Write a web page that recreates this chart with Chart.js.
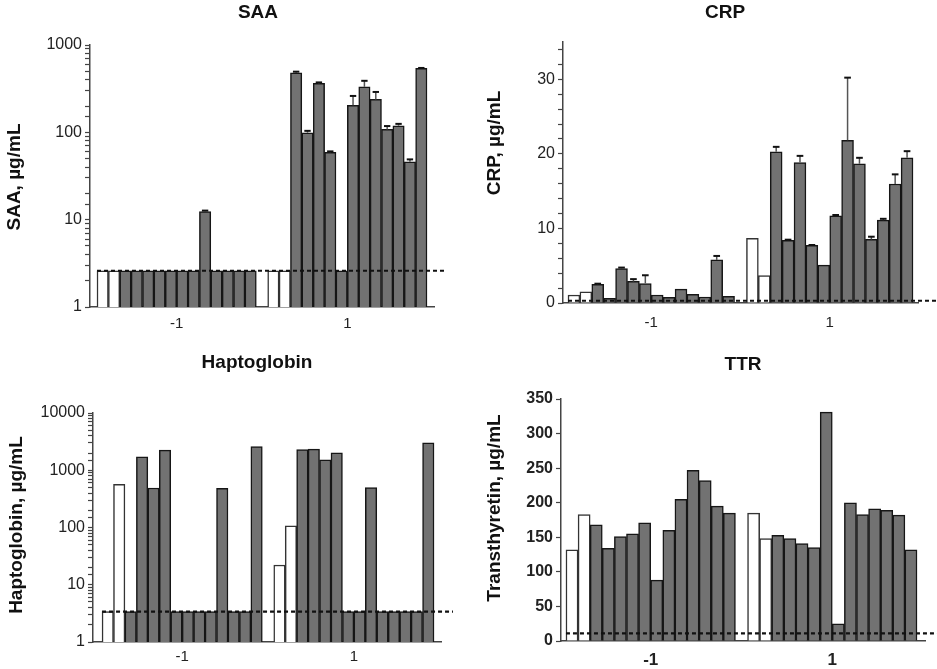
<!DOCTYPE html>
<html>
<head>
<meta charset="utf-8">
<script src="https://cdn.jsdelivr.net/npm/chart.js@4.4.1/dist/chart.umd.min.js"></script>
<style>
  body { margin: 0; background: #fff; }
  #wrap { position: relative; width: 937px; height: 669px; }
  canvas { position: absolute; }
</style>
</head>
<body>
<div id="wrap">
  <canvas id="saaChart" width="468" height="335" style="left:0;top:0"></canvas>
  <canvas id="crpChart" width="469" height="335" style="left:468px;top:0"></canvas>
  <canvas id="hpChart" width="468" height="334" style="left:0;top:335px"></canvas>
  <canvas id="ttrChart" width="469" height="334" style="left:468px;top:335px"></canvas>
</div>
<script>
// groups on the x axis; in each group the first two bars are controls (white)
const groupLabels = ['-1', '1'];

// SAA, µg/mL (log axis)
const saaMinus = [2.6, 2.6, 2.6, 2.6, 2.6, 2.6, 2.6, 2.6, 2.6, 12.4, 2.6, 2.6, 2.6, 2.6];
const saaPlus = [2.6, 2.6, 480, 99, 363, 59, 2.6, 204, 332, 238, 108, 119, 46, 540];
const saaErrMinus = [0, 0, 0, 0, 0, 0, 0, 0, 0, 0.3, 0, 0, 0, 0];
const saaErrPlus = [0, 0, 15, 5, 10, 1.5, 0, 57, 57, 52, 10, 6, 3, 6];
const saaTicks = [1, 10, 100, 1000];
const saaLod = 2.6;

// CRP, µg/mL
const crpMinus = [1.07, 1.51, 2.49, 0.62, 4.62, 2.89, 2.62, 1.07, 0.76, 1.87, 1.16, 0.8, 5.78, 0.89];
const crpPlus = [8.67, 3.69, 20.27, 8.4, 18.84, 7.73, 5.07, 11.7, 21.82, 18.67, 8.53, 11.11, 15.96, 19.47];
const crpErrMinus = [0, 0, 0.1, 0, 0.13, 0.31, 1.1, 0, 0, 0, 0, 0, 0.53, 0];
const crpErrPlus = [0, 0, 0.67, 0.09, 0.89, 0.05, 0, 0.1, 8.4, 0.8, 0.36, 0.18, 1.29, 0.89];
const crpTicks = [0, 10, 20, 30];
const crpLod = 0.3;

// Haptoglobin, µg/mL (log axis)
const hpMinus = [3.4, 568, 3.4, 1714, 490, 2244, 3.4, 3.4, 3.4, 3.4, 483, 3.4, 3.4, 2600];
const hpPlus = [22.1, 107, 2306, 2336, 1517, 2013, 3.4, 3.4, 497, 3.4, 3.4, 3.4, 3.4, 3017];
const hpTicks = [1, 10, 100, 1000, 10000];
const hpLod = 3.4;

// Transthyretin, µg/mL
const ttrMinus = [132, 183, 168, 134, 151, 155, 171, 88, 160, 205, 247, 232, 195, 185];
const ttrPlus = [185, 148, 153, 148, 141, 135, 331, 25, 200, 183, 191, 189, 182, 132];
const ttrTicks = [0, 50, 100, 150, 200, 250, 300, 350];
const ttrLod = 11;

const FONT = '"Liberation Sans", Arial, Helvetica, sans-serif';
Chart.defaults.font.family = FONT;

const panelText = {
  id: 'panelText',
  afterDraw(chart, args, opts) {
    const ctx = chart.ctx;
    ctx.save();
    ctx.fillStyle = '#111';
    ctx.textAlign = 'center';
    ctx.textBaseline = 'middle';
    ctx.font = 'bold 19px ' + FONT;
    ctx.fillText(opts.title, opts.titleX, opts.titleY);
    ctx.translate(opts.yTitleX, opts.yTitleY);
    ctx.rotate(-Math.PI / 2);
    ctx.font = 'bold 19px ' + FONT;
    ctx.fillText(opts.yTitle, 0, 0);
    ctx.restore();
  }
};

const errorBars = {
  id: 'errorBars',
  afterDatasetsDraw(chart, args, opts) {
    if (!opts.errors) return;
    const meta = chart.getDatasetMeta(0);
    const data = chart.data.datasets[0].data;
    const yScale = chart.scales.y;
    const ctx = chart.ctx;
    ctx.save();
    meta.data.forEach((bar, i) => {
      const err = opts.errors[i];
      if (!err) return;
      const top = yScale.getPixelForValue(data[i].y + err);
      const half = bar.width * 0.28;
      ctx.strokeStyle = '#555';
      ctx.lineWidth = 1.5;
      ctx.beginPath();
      ctx.moveTo(bar.x, bar.y);
      ctx.lineTo(bar.x, top);
      ctx.stroke();
      ctx.strokeStyle = '#111';
      ctx.lineWidth = 2;
      ctx.beginPath();
      ctx.moveTo(bar.x - half, top);
      ctx.lineTo(bar.x + half, top);
      ctx.stroke();
    });
    ctx.restore();
  }
};

const lodLine = {
  id: 'lodLine',
  afterDraw(chart, args, opts) {
    const first = chart.getDatasetMeta(0).data[0];
    const y = chart.scales.y.getPixelForValue(opts.value);
    const ctx = chart.ctx;
    ctx.save();
    ctx.strokeStyle = '#111';
    ctx.lineWidth = 2.2;
    ctx.setLineDash([4, 3]);
    ctx.beginPath();
    ctx.moveTo(first.x - first.width / 2, y);
    ctx.lineTo(chart.chartArea.right + opts.overhang, y);
    ctx.stroke();
    ctx.restore();
  }
};

Chart.register(panelText, errorBars, lodLine);

function makePanel(id, p) {
  const n = p.minus.length;
  const points = p.minus.map((v, i) => ({ x: i, y: v }))
    .concat(p.plus.map((v, i) => ({ x: i + n + 1, y: v })));
  const centers = [(n - 1) / 2, n + 1 + (p.plus.length - 1) / 2];
  const isControl = i => (i < n ? i : i - n) < 2;
  const tickFont = { size: 16, weight: p.boldTicks ? 'bold' : 'normal' };

  const yScale = {
    type: p.log ? 'logarithmic' : 'linear',
    min: p.yMin,
    max: p.yMax,
    afterFit: s => { s.width = p.area.left; },
    grid: { drawOnChartArea: false, tickLength: 5, tickColor: '#444', tickWidth: 1.2 },
    border: { color: '#444', width: 1.5 },
    ticks: {
      autoSkip: false,
      padding: 3,
      color: '#222',
      font: tickFont,
      callback: v => p.yTicks.includes(v) ? String(v) : ''
    }
  };
  if (!p.log) {
    yScale.ticks.stepSize = p.yStep;
    yScale.ticks.includeBounds = false;
  }

  return new Chart(document.getElementById(id), {
    type: 'bar',
    data: {
      datasets: [{
        data: points,
        backgroundColor: c => isControl(c.dataIndex) ? '#ffffff' : '#727272',
        borderColor: c => isControl(c.dataIndex) ? '#333' : '#161616',
        borderWidth: 1.5,
        categoryPercentage: 1,
        barPercentage: 1
      }]
    },
    options: {
      responsive: false,
      animation: false,
      devicePixelRatio: 1,
      layout: { padding: { top: p.area.top, right: p.area.right, left: 0, bottom: 0 } },
      plugins: {
        legend: { display: false },
        tooltip: { enabled: false },
        panelText: p.text,
        errorBars: { errors: p.errors },
        lodLine: { value: p.lod, overhang: p.overhang }
      },
      scales: {
        x: {
          type: 'linear',
          min: p.xMin,
          max: p.xMax,
          offset: false,
          afterFit: s => { s.height = p.area.xHeight; },
          afterBuildTicks: s => { s.ticks = centers.map(v => ({ value: v })); },
          grid: { drawOnChartArea: false, drawTicks: false, offset: false },
          border: { color: '#444', width: 1.5 },
          ticks: {
            autoSkip: false,
            maxRotation: 0,
            padding: p.xPad,
            color: '#222',
            font: { size: p.boldTicks ? 17 : 15, weight: p.boldTicks ? 'bold' : 'normal' },
            callback: (v, i) => groupLabels[i]
          }
        },
        y: yScale
      }
    }
  });
}

makePanel('saaChart', {
  minus: saaMinus, plus: saaPlus, errors: saaErrMinus.concat(saaErrPlus),
  log: true, yMin: 1, yMax: 1000, yTicks: saaTicks, lod: saaLod, overhang: 13,
  xMin: -1.115, xMax: 29.115, xPad: 8,
  area: { left: 90, right: 34, top: 45, xHeight: 28 },
  text: { title: 'SAA', titleX: 258, titleY: 13, yTitle: 'SAA, µg/mL', yTitleX: 15, yTitleY: 177 }
});

makePanel('crpChart', {
  minus: crpMinus, plus: crpPlus, errors: crpErrMinus.concat(crpErrPlus),
  log: false, yMin: 0, yMax: 35, yStep: 2, yTicks: crpTicks, lod: crpLod, overhang: 19,
  xMin: -0.92, xMax: 28.92, xPad: 11,
  area: { left: 95, right: 19, top: 42, xHeight: 32 },
  text: { title: 'CRP', titleX: 257, titleY: 13, yTitle: 'CRP, µg/mL', yTitleX: 27, yTitleY: 143 }
});

makePanel('hpChart', {
  minus: hpMinus, plus: hpPlus, errors: null,
  log: true, yMin: 1, yMax: 10000, yTicks: hpTicks, lod: hpLod, overhang: 12,
  xMin: -1.29, xMax: 29.11, xPad: 6,
  area: { left: 93, right: 27, top: 78, xHeight: 27 },
  text: { title: 'Haptoglobin', titleX: 257, titleY: 28, yTitle: 'Haptoglobin, µg/mL', yTitleX: 17, yTitleY: 190 }
});

makePanel('ttrChart', {
  minus: ttrMinus, plus: ttrPlus, errors: null,
  log: false, yMin: 0, yMax: 350, yStep: 50, yTicks: ttrTicks, lod: ttrLod, overhang: 12,
  xMin: -0.91, xMax: 29.16, xPad: 9, boldTicks: true,
  area: { left: 93, right: 12, top: 64, xHeight: 28 },
  text: { title: 'TTR', titleX: 275, titleY: 30, yTitle: 'Transthyretin, µg/mL', yTitleX: 27, yTitleY: 173 }
});
</script>
</body>
</html>
